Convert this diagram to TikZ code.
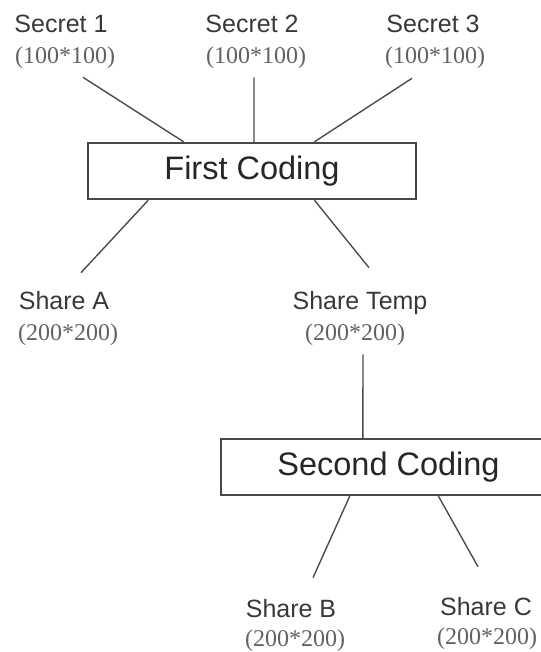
\documentclass[tikz,border=0pt]{standalone}
\usepackage{fontspec}
\setmainfont{Liberation Serif}
\newfontfamily\labfont{Liberation Sans}
\usetikzlibrary{calc}
\begin{document}
\begin{tikzpicture}[x=1pt,y=-1pt,
  lbl/.style={font=\labfont\fontsize{25}{30}\selectfont, text=black!78, inner sep=0pt, anchor=base},
  dimtext/.style={font=\fontsize{24}{29}\selectfont, text=black!62, inner sep=0pt, anchor=base},
  codebox/.style={draw=black!72, line width=2.4pt, minimum height=56pt, inner sep=0pt,
    font=\labfont\fontsize{32.5}{38}\selectfont, text=black!85},
  conn/.style={draw=black!70, line width=1.4pt}]
\useasboundingbox (0,0) rectangle (540,652);

% top labels
\node[lbl] (s1) at (61,33) {Secret 1};
\node[dimtext] (s1d) at (65,64) {(100*100)};
\node[lbl] (s2) at (252,33) {Secret 2};
\node[dimtext] (s2d) at (256,64) {(100*100)};
\node[lbl] (s3) at (433,33) {Secret 3};
\node[dimtext] (s3d) at (435,64) {(100*100)};

% boxes
\node[codebox, minimum width=328pt] (fc) at (252,171) {First Coding};
\node[codebox, minimum width=335pt] (sc) at (388.5,467) {Second Coding};

% middle labels
\node[lbl] (sa) at (64,309) {Share A};
\node[dimtext] (sad) at (68,340) {(200*200)};
\node[lbl] (st) at (360,309) {Share Temp};
\node[dimtext] (std) at (355,340) {(200*200)};

% bottom labels
\node[lbl] (sb) at (291,617) {Share B};
\node[dimtext] (sbd) at (295,646) {(200*200)};
\node[lbl] (scc) at (486,615) {Share C};
\node[dimtext] (sccd) at (487,644) {(200*200)};

% connectors
\draw[conn] ($(s1d.south)+(18,8)$) -- ($(fc.north west)!0.293!(fc.north east)$);
\draw[conn] ($(s2d.south)+(-2,8)$) -- ($(fc.north west)!0.506!(fc.north east)$);
\draw[conn] ($(s3d.south)+(-23,9)$) -- ($(fc.north west)!0.689!(fc.north east)$);
\draw[conn] ($(fc.south west)!0.186!(fc.south east)$) -- ($(sa.north)+(17,-18)$);
\draw[conn] ($(fc.south west)!0.689!(fc.south east)$) -- ($(st.north)+(9,-23)$);
\draw[conn] ($(std.south)+(8,9)$) -- ($(sc.north west)!0.424!(sc.north east)$);
\draw[conn] ($(sc.south west)!0.385!(sc.south east)$) -- ($(sb.north)+(22,-21)$);
\draw[conn] ($(sc.south west)!0.648!(sc.south east)$) -- ($(scc.north)+(-8,-30)$);
\end{tikzpicture}
\end{document}
